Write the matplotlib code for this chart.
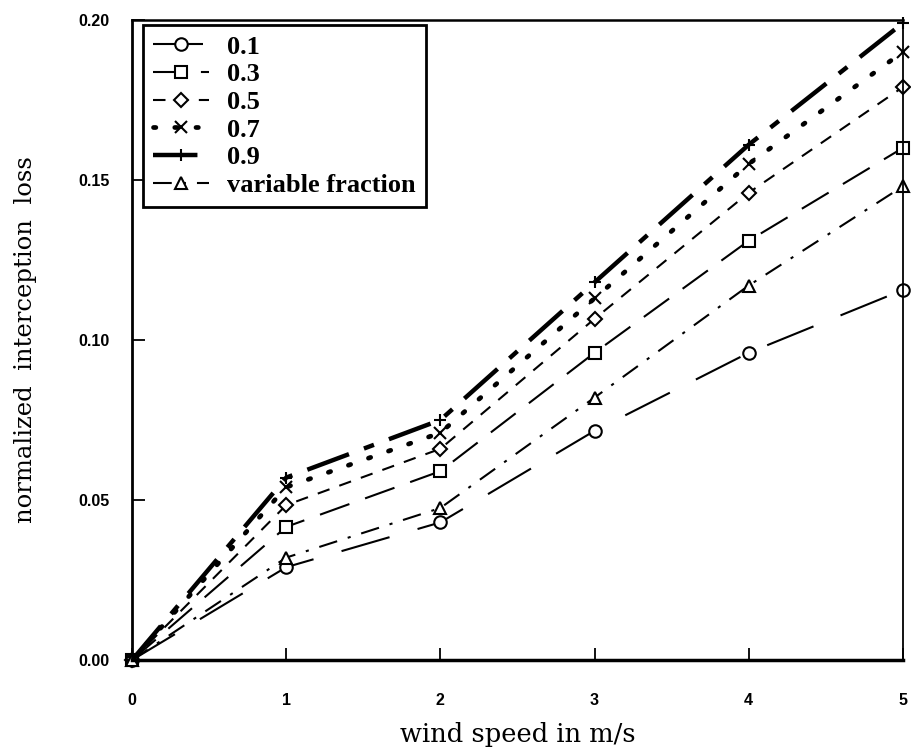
import matplotlib
matplotlib.use("Agg")
import matplotlib.pyplot as plt

# wind speed (m/s) and normalized interception loss per canopy fraction
wind = [0, 1, 2, 3, 4, 5]
loss_01 = [0.0, 0.029, 0.043, 0.0716, 0.096, 0.1156]
loss_03 = [0.0, 0.0416, 0.059, 0.096, 0.131, 0.160]
loss_05 = [0.0, 0.0484, 0.066, 0.1066, 0.146, 0.179]
loss_07 = [0.0, 0.054, 0.071, 0.113, 0.155, 0.190]
loss_09 = [0.0, 0.057, 0.075, 0.118, 0.161, 0.199]
loss_var = [0.0, 0.032, 0.0475, 0.082, 0.117, 0.148]
labels = ["0.1", "0.3", "0.5", "0.7", "0.9", "variable fraction"]

# (values, marker, dash pattern, line width, cap style)
series = [
    (loss_01, "o", (0, (24, 14)), 1.5, "butt"),
    (loss_03, "s", (0, (15, 8)), 1.5, "butt"),
    (loss_05, "D", (0, (6, 5)), 1.5, "butt"),
    (loss_07, "x", (0, (0.5, 4.0)), 3.4, "round"),
    (loss_09, "+", (0, (10, 3.6, 2.4, 3.6)), 3.2, "butt"),
    (loss_var, "^", (0, (9, 5.3, 1.5, 5.3)), 1.5, "butt"),
]

fig = plt.figure(figsize=(9.11, 7.53), dpi=100)
ax = fig.add_axes([0.145, 0.1235, 0.846, 0.85])

for (vals, mk, ls, lw, cap), lab in zip(series, labels):
    ms = 7 if mk == "D" else 9
    ax.plot(wind, vals, color="black", linestyle=ls, linewidth=lw,
            marker=mk, markersize=ms, markerfacecolor="white",
            markeredgecolor="black", markeredgewidth=1.5, label=lab,
            clip_on=False, dash_capstyle=cap)

ax.set_xlim(0, 5)
ax.set_ylim(0, 0.20)
ax.set_xticks(wind)
ax.set_yticks([0.0, 0.05, 0.10, 0.15, 0.20])
ax.set_yticklabels(["0.00", "0.05", "0.10", "0.15", "0.20"])
ax.tick_params(direction="in", length=9, width=1.3, top=False, right=False)
ax.tick_params(axis="x", pad=24)
ax.tick_params(axis="y", pad=16)
for t in ax.get_xticklabels() + ax.get_yticklabels():
    t.set_fontfamily("Liberation Sans")
    t.set_fontweight("bold")
    t.set_fontsize(11.5)

ax.spines["left"].set_linewidth(2.0)
ax.spines["bottom"].set_linewidth(2.5)
ax.spines["top"].set_linewidth(1.8)
ax.spines["right"].set_linewidth(1.3)

ax.set_xlabel("wind speed in m/s", fontfamily="DejaVu Serif", fontsize=18.5,
              labelpad=10)
ax.set_ylabel("normalized  interception  loss", fontfamily="DejaVu Serif",
              fontsize=17.5, labelpad=30)

leg = ax.legend(loc="upper left", bbox_to_anchor=(0.0143, 0.992),
                borderaxespad=0,
                prop={"family": "Liberation Serif", "weight": "bold", "size": 19},
                handlelength=2.1, handletextpad=0.7, labelspacing=0.16,
                borderpad=0.38, fancybox=False, framealpha=1)
leg.get_frame().set_edgecolor("black")
leg.get_frame().set_linewidth(2.0)

fig.savefig("out.png", dpi=100)
